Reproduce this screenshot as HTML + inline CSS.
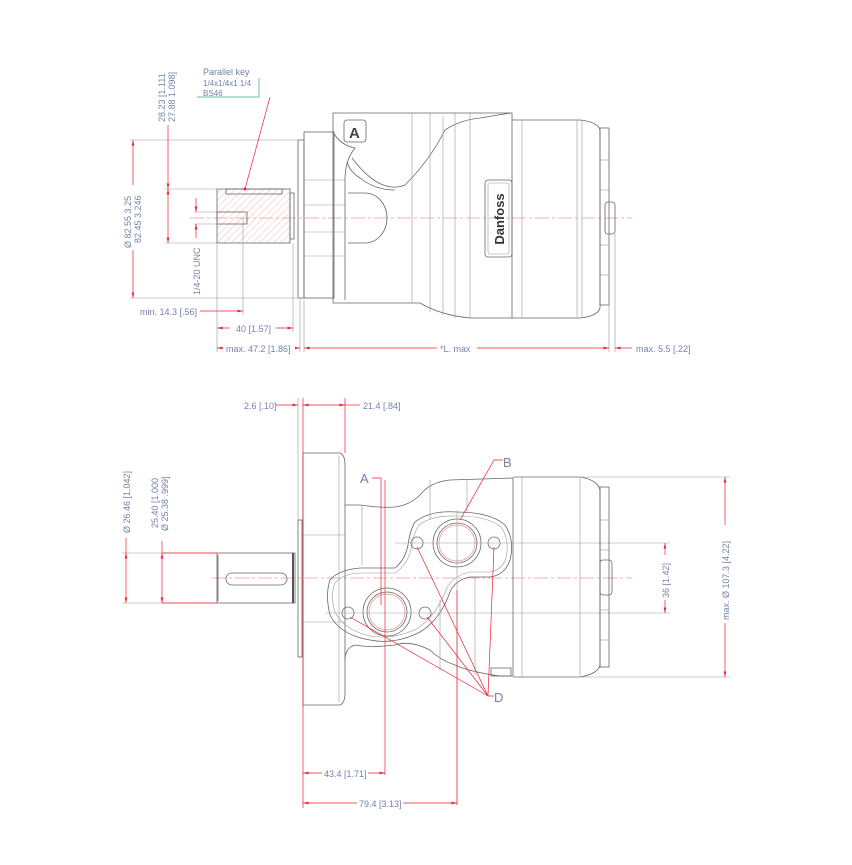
<!DOCTYPE html>
<html><head><meta charset="utf-8"><style>
html,body{margin:0;padding:0;background:#fff}
svg{display:block}
text{font-family:"Liberation Sans",sans-serif;fill:#7482a8;font-size:9px}
.o{fill:none;stroke:#666;stroke-width:0.8}
.t{fill:none;stroke:#999;stroke-width:0.6}
.r{fill:none;stroke:#e23;stroke-width:0.7}
.c{fill:none;stroke:#e99;stroke-width:0.7;stroke-dasharray:14 3 3 3}
.b{fill:none;stroke:#7482a8;stroke-width:0.7}
</style></head><body>
<svg width="852" height="865" viewBox="0 0 852 865" xmlns="http://www.w3.org/2000/svg">
<defs>
<marker id="a" viewBox="0 0 8 4" refX="8" refY="2" markerWidth="8" markerHeight="4" orient="auto-start-reverse"><path d="M0,0 L8,2 L0,4z" fill="#e23"/></marker>
<pattern id="h" width="5" height="5" patternUnits="userSpaceOnUse" patternTransform="rotate(45)"><line x1="0" y1="0" x2="0" y2="5" stroke="#e88" stroke-width="0.6"/></pattern>
</defs>

<!-- ================= TOP VIEW ================= -->
<line class="c" x1="190" y1="218" x2="632" y2="218"/>
<rect x="217" y="189" width="73" height="54" fill="url(#h)" stroke="#666" stroke-width="0.8"/>
<rect x="226" y="189" width="56" height="5" fill="#fff" class="o"/>
<rect x="217" y="212" width="30" height="12" fill="#fff" class="o"/>
<rect x="290" y="193" width="4" height="46" class="o"/>
<rect x="298" y="140" width="6" height="158" class="o"/>
<rect x="304" y="132" width="30" height="166" class="o"/>
<line class="t" x1="304" y1="180" x2="345" y2="180"/><line class="t" x1="304" y1="256" x2="345" y2="256"/>
<line class="t" x1="304" y1="205" x2="345" y2="205"/><line class="t" x1="304" y1="232" x2="345" y2="232"/>
<path class="o" d="M333,132 L333,113 L512,113 L512,318 L470,318 Q440,315 420,303 L333,303 Z"/>
<path class="o" d="M333,132 Q340,145 355,148 Q345,160 345,180 L345,300"/>
<path class="o" d="M352,158 Q380,195 405,185 Q430,160 445,130 Q460,120 480,118 L510,113"/>
<path class="o" d="M347,162 Q350,172 360,178 Q375,190 395,190"/>
<path class="o" d="M348,193 L365,193 A22,25 0 0 1 365,243 L348,243"/>
<line class="t" x1="412" y1="113" x2="412" y2="303"/>
<line class="t" x1="430" y1="113" x2="430" y2="312"/>
<line class="t" x1="443" y1="116" x2="443" y2="315"/>
<line class="t" x1="455" y1="113" x2="455" y2="318"/>
<line class="t" x1="470" y1="113" x2="470" y2="318"/>
<rect x="344" y="120" width="22" height="22" rx="3" class="o"/>
<text x="349" y="138" style="font-size:15px;fill:#444;font-weight:bold">A</text>
<rect x="485" y="180" width="27" height="77" rx="3" class="o"/>
<rect x="488" y="183" width="21" height="71" rx="2" class="t"/>
<text transform="translate(504,219) rotate(-90)" text-anchor="middle" style="font-size:13px;fill:#333;font-weight:bold">Danfoss</text>
<path class="o" d="M512,120 L580,120 Q598,122 600,130 L600,308 Q598,316 580,318 L512,318"/>
<line class="t" x1="522" y1="120" x2="522" y2="318"/>
<line class="t" x1="577" y1="120" x2="577" y2="318"/>
<line class="t" x1="582" y1="121" x2="582" y2="317"/>
<rect x="600" y="128" width="9" height="177" class="o"/>
<line class="t" x1="600" y1="160" x2="609" y2="160"/><line class="t" x1="600" y1="190" x2="609" y2="190"/>
<line class="t" x1="600" y1="245" x2="609" y2="245"/><line class="t" x1="600" y1="275" x2="609" y2="275"/>
<rect x="605" y="202" width="10" height="32" rx="3" class="o"/>

<!-- top dims -->
<line class="t" x1="130" y1="140" x2="300" y2="140"/>
<line class="t" x1="130" y1="298" x2="300" y2="298"/>
<line class="r" x1="133" y1="140" x2="133" y2="185" marker-start="url(#a)"/>
<line class="r" x1="133" y1="250" x2="133" y2="298" marker-end="url(#a)"/>
<text transform="translate(131,248) rotate(-90)">Ø  82.55   3.25</text>
<text transform="translate(141,243) rotate(-90)">82.45   3.246</text>
<line class="t" x1="165" y1="189" x2="226" y2="189"/>
<line class="t" x1="165" y1="243" x2="217" y2="243"/>
<line class="r" x1="168" y1="125" x2="168" y2="189" marker-end="url(#a)"/>
<line class="r" x1="168" y1="189" x2="168" y2="243" marker-start="url(#a)" marker-end="url(#a)"/>
<text transform="translate(165,122) rotate(-90)">28.23  [1.111</text>
<text transform="translate(175,122) rotate(-90)">27.88   1.098]</text>
<text x="203" y="75">Parallel key</text>
<text x="203" y="86" style="font-size:8px">1/4x1/4x1  1/4</text>
<text x="203" y="96" style="font-size:8px">BS46</text>
<line x1="197" y1="97" x2="259" y2="97" stroke="#3a8" stroke-width="0.7"/>
<line x1="259" y1="78" x2="259" y2="97" stroke="#3a8" stroke-width="0.7"/>
<line class="r" x1="270" y1="97" x2="245" y2="189"/>
<circle cx="245" cy="189" r="1.5" fill="#e23"/>
<line class="t" x1="194" y1="212" x2="217" y2="212"/><line class="t" x1="194" y1="224" x2="217" y2="224"/>
<line class="r" x1="196" y1="198" x2="196" y2="212" marker-end="url(#a)"/>
<line class="r" x1="196" y1="224" x2="196" y2="238" marker-start="url(#a)"/>
<text transform="translate(200,295) rotate(-90)">1/4-20 UNC</text>
<line class="t" x1="217" y1="243" x2="217" y2="352"/>
<line class="t" x1="243" y1="218" x2="243" y2="315"/>
<line class="t" x1="293" y1="243" x2="293" y2="332"/>
<line class="t" x1="300" y1="298" x2="300" y2="352"/>
<line class="t" x1="304" y1="300" x2="304" y2="352"/>
<line class="t" x1="609" y1="305" x2="609" y2="352"/>
<line class="t" x1="615" y1="234" x2="615" y2="352"/>
<text x="140" y="315">min. 14.3 [.56]</text>
<line class="r" x1="200" y1="311" x2="243" y2="311" marker-end="url(#a)"/>
<line class="r" x1="217" y1="328" x2="293" y2="328" marker-start="url(#a)" marker-end="url(#a)"/>
<rect x="230" y="322" width="46" height="12" fill="#fff"/>
<text x="236" y="332">40 [1.57]</text>
<line class="r" x1="217" y1="348" x2="300" y2="348" marker-start="url(#a)" marker-end="url(#a)"/>
<rect x="223" y="342" width="72" height="12" fill="#fff"/>
<text x="226" y="352">max. 47.2 [1.86]</text>
<line class="r" x1="304" y1="348" x2="609" y2="348" marker-start="url(#a)" marker-end="url(#a)"/>
<rect x="437" y="342" width="40" height="12" fill="#fff"/>
<text x="440" y="352">*L. max</text>
<line class="r" x1="615" y1="348" x2="632" y2="348" marker-start="url(#a)"/>
<text x="636" y="352">max. 5.5 [.22]</text>

<!-- ================= BOTTOM VIEW ================= -->
<line class="c" x1="212" y1="578" x2="632" y2="578"/>
<rect x="217" y="553" width="78" height="50" class="o"/>
<line class="o" x1="218" y1="555" x2="218" y2="601"/>
<rect x="226" y="573" width="61" height="12" rx="6" class="o"/>
<line x1="293" y1="553" x2="293" y2="603" stroke="#555" stroke-width="2"/>
<rect x="298" y="520" width="4" height="137" class="o"/>
<path class="o" d="M303,453 L340,453 Q345,455 345,465 L345,693 Q345,703 340,705 L303,705 Z"/>
<line class="t" x1="303" y1="535" x2="345" y2="535"/><line class="t" x1="303" y1="622" x2="345" y2="622"/>
<line class="t" x1="339" y1="456" x2="339" y2="702"/>
<path class="o" d="M345,505 L360,505 Q380,508 395,507 Q410,505 420,495 Q430,482 450,480 L513,478 L513,676 L500,676 Q470,672 455,665 Q440,660 430,650 Q410,640 395,645 Q370,648 355,645 Q345,648 345,660"/>
<path class="o" d="M415,522 Q430,510 457,512 Q490,512 505,525 Q515,540 510,560 Q505,575 490,577 L470,577 Q455,580 450,592 Q440,620 420,632 Q395,645 370,640 Q340,635 330,615 Q325,595 330,580 Q338,570 360,568 L395,568 Q405,560 408,545 Q410,530 415,522 Z"/>
<path class="t" d="M419,525 Q432,515 457,516 Q488,516 501,527 Q510,540 506,558 Q502,570 490,572 L470,572 Q452,576 446,590 Q436,616 418,628 Q395,640 370,636 Q344,630 335,612 Q330,595 335,583 Q342,574 360,573 L395,573 Q408,565 412,546 Q414,532 419,525 Z"/>
<line class="t" x1="362" y1="505" x2="362" y2="565"/>
<line class="t" x1="440" y1="600" x2="440" y2="670"/>
<line class="t" x1="475" y1="577" x2="475" y2="675"/>
<line class="t" x1="430" y1="480" x2="430" y2="520"/>
<line class="t" x1="467" y1="480" x2="467" y2="513"/>
<circle cx="457" cy="543" r="24" class="o"/>
<circle cx="457" cy="543" r="20" class="o"/>
<circle cx="457" cy="543" r="18" fill="none" stroke="#e88" stroke-width="0.7"/>
<circle cx="387" cy="612" r="24" class="o"/>
<circle cx="387" cy="612" r="20" class="o"/>
<circle cx="387" cy="612" r="18" fill="none" stroke="#e88" stroke-width="0.7"/>
<circle cx="417" cy="543" r="6" class="o"/><circle cx="494" cy="543" r="6" class="o"/>
<circle cx="348" cy="613" r="6" class="o"/><circle cx="425" cy="613" r="6" class="o"/>
<line class="t" x1="395" y1="543" x2="670" y2="543"/>
<line class="t" x1="325" y1="613" x2="670" y2="613"/>
<line class="t" x1="457" y1="510" x2="457" y2="805"/>
<line class="r" x1="457" y1="590" x2="457" y2="805"/>
<line class="r" x1="385" y1="480" x2="385" y2="775"/>
<path class="o" d="M513,477 L580,477 Q598,480 600,490 L600,665 Q598,674 580,677 L513,677"/>
<line class="t" x1="522" y1="477" x2="522" y2="677"/>
<line class="t" x1="580" y1="477" x2="580" y2="677"/>
<rect x="600" y="487" width="9" height="180" class="o"/>
<line class="t" x1="600" y1="520" x2="609" y2="520"/><line class="t" x1="600" y1="550" x2="609" y2="550"/>
<line class="t" x1="600" y1="610" x2="609" y2="610"/><line class="t" x1="600" y1="640" x2="609" y2="640"/>
<rect x="600" y="560" width="12" height="35" rx="3" class="o"/>
<rect x="491" y="668" width="20" height="8" class="o"/>
<text x="360" y="483" style="font-size:13px">A</text>
<path class="r" d="M372,478 L381,478 L381,605"/>
<text x="503" y="467" style="font-size:13px">B</text>
<path class="r" d="M503,460 L494,460 L460,520"/>
<text x="494" y="702" style="font-size:13px">D</text>
<path class="r" d="M494,696 L488,696 L417,547 M488,696 L494,547 M488,696 L350,617 M488,696 L427,617"/>
<line class="t" x1="298" y1="398" x2="298" y2="520"/>
<line class="r" x1="303" y1="398" x2="303" y2="808"/>
<line class="r" x1="345" y1="398" x2="345" y2="453"/>
<line class="r" x1="276" y1="405" x2="298" y2="405" marker-end="url(#a)"/>
<line class="r" x1="303" y1="405" x2="345" y2="405" marker-start="url(#a)" marker-end="url(#a)"/>
<line class="r" x1="345" y1="405" x2="360" y2="405"/>
<text x="244" y="409">2.6 [.10]</text>
<text x="363" y="409">21.4 [.84]</text>
<line class="r" x1="303" y1="773" x2="385" y2="773" marker-start="url(#a)" marker-end="url(#a)"/>
<rect x="322" y="767" width="46" height="12" fill="#fff"/>
<text x="324" y="777">43.4 [1.71]</text>
<line class="r" x1="303" y1="803" x2="457" y2="803" marker-start="url(#a)" marker-end="url(#a)"/>
<rect x="357" y="797" width="46" height="12" fill="#fff"/>
<text x="359" y="807">79.4 [3.13]</text>
<line class="t" x1="122" y1="553" x2="217" y2="553"/>
<line class="t" x1="122" y1="603" x2="217" y2="603"/>
<line class="r" x1="162" y1="553" x2="217" y2="553"/>
<line class="r" x1="162" y1="603" x2="217" y2="603"/>
<line class="r" x1="126" y1="538" x2="126" y2="553"/>
<line class="r" x1="126" y1="553" x2="126" y2="603" marker-start="url(#a)" marker-end="url(#a)"/>
<line class="r" x1="162" y1="541" x2="162" y2="553"/>
<line class="r" x1="162" y1="553" x2="162" y2="603" marker-start="url(#a)" marker-end="url(#a)"/>
<text transform="translate(130,533) rotate(-90)">Ø  26.46  [1.042]</text>
<text transform="translate(158,528) rotate(-90)">25.40  [1.000</text>
<text transform="translate(168,531) rotate(-90)">Ø  25.38     .999]</text>
<line class="t" x1="513" y1="477" x2="730" y2="477"/>
<line class="t" x1="513" y1="677" x2="730" y2="677"/>
<line class="r" x1="725" y1="477" x2="725" y2="677" marker-start="url(#a)" marker-end="url(#a)"/>
<rect x="718" y="525" width="14" height="98" fill="#fff"/>
<text transform="translate(729,620) rotate(-90)">max.  Ø 107.3  [4.22]</text>
<line class="r" x1="665" y1="543" x2="665" y2="613" marker-start="url(#a)" marker-end="url(#a)"/>
<rect x="658" y="555" width="14" height="45" fill="#fff"/>
<text transform="translate(669,598) rotate(-90)">36  [1.42]</text>
</svg>
</body></html>
